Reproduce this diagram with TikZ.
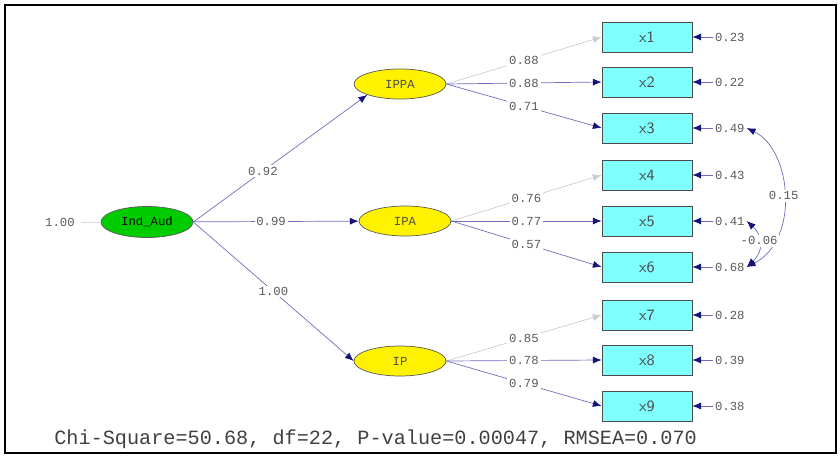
\documentclass[tikz,border=0pt]{standalone}
\usepackage{fontspec}
\setmonofont{Liberation Mono}
\usetikzlibrary{arrows.meta,positioning,shapes.geometric}
\definecolor{pathblue}{RGB}{110,110,190}
\definecolor{tipblue}{RGB}{20,20,120}
\definecolor{labgray}{RGB}{90,90,90}
\definecolor{boxcyan}{RGB}{128,255,255}
\begin{document}
\begin{tikzpicture}[
    x=0.02cm, y=-0.02cm,
    every node/.style={font=\ttfamily\scriptsize, text=labgray}, % Monospaced small labels
    latent/.style={ellipse, draw=gray!70!black, fill=yellow, minimum width=1.84cm, minimum height=0.6cm, text=black!70},
    obs/.style={rectangle, draw=gray!60!black, fill=boxcyan, minimum width=1.8cm, minimum height=0.6cm, text=black!70, font=\sffamily\small},
    path/.style={pathblue, -{Latex[length=5pt,width=4pt,color=tipblue]}},
    fixed/.style={gray!40, -{Latex[length=5pt,width=4pt,color=gray!40]}},
    lab/.style={fill=white, inner sep=1pt}
]
    % Frame
    \draw[thick] (5,5) rectangle (836,453);
    \useasboundingbox (0,0) rectangle (840,467);

    % Latent variables
    \node[latent, fill=green!80!black, text=black] (aud) at (147,222) {Ind\_Aud};
    \node[latent] (ippa) at (400,84) {IPPA};
    \node[latent] (ipa) at (405,221) {IPA};
    \node[latent] (ip) at (400,361) {IP};
    \node (audvar) at (60,222) {1.00};
    \draw[gray!30] (audvar) -- (aud);

    % Observed variables with error terms
    \foreach \i/\yy/\e in {1/37/0.23, 2/82/0.22, 3/128/0.49, 4/175/0.43, 5/221/0.41, 6/267/0.68, 7/315/0.28, 8/360/0.39, 9/406/0.38} {
        \node[obs] (x\i) at (647,\yy) {x\i};
        \node[anchor=west, inner sep=1pt] (e\i) at (713,\yy) {\e};
        \draw[path] (e\i.west) -- (x\i.east);
    }

    % Second-order paths
    \draw[path] (aud.east) -- node[lab, pos=0.4] {0.92} (ippa.south west);
    \draw[path] (aud) -- node[lab, pos=0.47] {0.99} (ipa);
    \draw[path] (aud.east) -- node[lab, pos=0.5] {1.00} (ip.west);

    % Loadings
    \foreach \f/\a/\b/\c/\la/\lb/\lc in {ippa/1/2/3/0.88/0.88/0.71, ipa/4/5/6/0.76/0.77/0.57, ip/7/8/9/0.85/0.78/0.79} {
        \draw[fixed] (\f.east) -- node[lab, pos=0.5] {\la} (x\a.west);
        \draw[path] (\f.east) -- node[lab, pos=0.5] {\lb} (x\b.west);
        \draw[path] (\f.east) -- node[lab, pos=0.5] {\lc} (x\c.west);
    }

    % Error covariances
    \draw[path, {Latex[length=5pt,width=4pt,color=tipblue]}-{Latex[length=5pt,width=4pt,color=tipblue]}]
        (e3.east) .. controls (792,150) and (800,240) .. node[lab, pos=0.5] {0.15} (e6.east);
    \draw[path, {Latex[length=5pt,width=4pt,color=tipblue]}-{Latex[length=5pt,width=4pt,color=tipblue]}]
        (e5.east) .. controls (762,235) and (765,250) .. node[lab, pos=0.45] {-0.06} (e6.east);

    % Fit statistics
    \node[font=\ttfamily\fontsize{11.5}{12}\selectfont, text=black!75, anchor=west, inner sep=0pt] (fit) at (54,439) {Chi-Square=50.68, df=22, P-value=0.00047, RMSEA=0.070};
\end{tikzpicture}
\end{document}
